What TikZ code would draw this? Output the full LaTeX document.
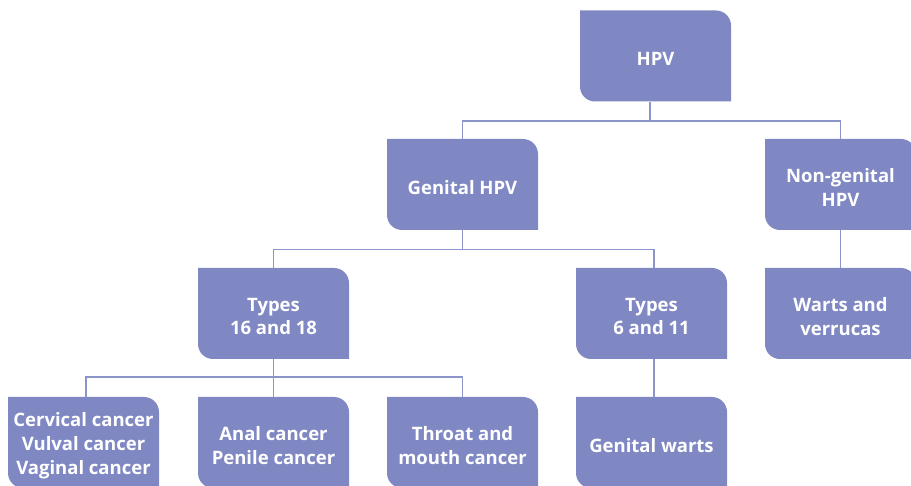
\documentclass[tikz,border=0pt]{standalone}
\usepackage{fontspec}
\IfFontExistsTF{Open Sans SemiBold}
  {\setmainfont{Open Sans}[BoldFont={Open Sans SemiBold}]}
  {\setmainfont{Open Sans}}
\usetikzlibrary{calc}
\definecolor{boxfill}{RGB}{128,136,196}
\definecolor{linecol}{RGB}{140,148,204}
\tikzset{
  boxtext/.style={text=white, align=center, inner sep=0pt, yshift=-3pt,
    font=\fontsize{18.5}{23.8}\selectfont\bfseries},
  hbox/.style={minimum width=151pt, minimum height=91pt, inner sep=0pt,
    label={[boxtext]center:{#1}},
    path picture={
      \fill[boxfill] (path picture bounding box.north west)
        -- ($(path picture bounding box.north east)+(-15pt,0)$)
        arc[start angle=90,end angle=0,radius=15pt]
        -- (path picture bounding box.south east)
        -- ($(path picture bounding box.south west)+(15pt,0)$)
        arc[start angle=270,end angle=180,radius=15pt]
        -- cycle;
    }},
  conn/.style={draw=linecol, line width=1.4pt}
}
\begin{document}
\begin{tikzpicture}[x=1pt,y=1pt]
\useasboundingbox (0,0) rectangle (911,485);
\clip (0,0) rectangle (911,485);
% row 1
\node[hbox={HPV}] (hpv) at (655.5,429) {};
% row 2
\node[hbox={Genital HPV}] (gen) at (462.5,300.5) {};
\node[hbox={Non-genital\\HPV}] (nongen) at (840.5,300.5) {};
% row 3
\node[hbox={Types\\16 and 18}] (t1618) at (273.5,171.5) {};
\node[hbox={Types\\6 and 11}] (t611) at (651.5,171.5) {};
\node[hbox={Warts and\\verrucas}] (warts) at (840.5,171.5) {};
% row 4
\node[hbox={Cervical cancer\\Vulval cancer\\Vaginal cancer}] (cerv) at (83.5,42.5) {};
\node[hbox={Anal cancer\\Penile cancer}] (anal) at (273.5,42.5) {};
\node[hbox={Throat and\\mouth cancer}] (throat) at (462.5,42.5) {};
\node[hbox={Genital warts}] (gwarts) at (651.5,42.5) {};
% connectors
\coordinate (b1) at (0,364);
\coordinate (b2) at (0,235.5);
\coordinate (b3) at (0,108);
\draw[conn] ([xshift=-5.5pt]hpv.south) -- ([xshift=-5.5pt]hpv.south |- b1);
\draw[conn] (gen.north) |- (b1 -| nongen.north) -- (nongen.north);
\draw[conn] (gen.south) -- (gen.south |- b2);
\draw[conn] (t1618.north) |- ([xshift=2.5pt]b2 -| t611.north) -- ([xshift=2.5pt]t611.north);
\draw[conn] (t1618.south) -- (t1618.south |- b3);
\draw[conn] ([xshift=2.5pt]cerv.north) |- (b3 -| throat.north) -- (throat.north);
\draw[conn] (anal.north) -- (anal.north |- b3);
\draw[conn] ([xshift=2.5pt]t611.south) -- ([xshift=2.5pt]gwarts.north);
\draw[conn] (nongen.south) -- (warts.north);
\end{tikzpicture}
\end{document}
